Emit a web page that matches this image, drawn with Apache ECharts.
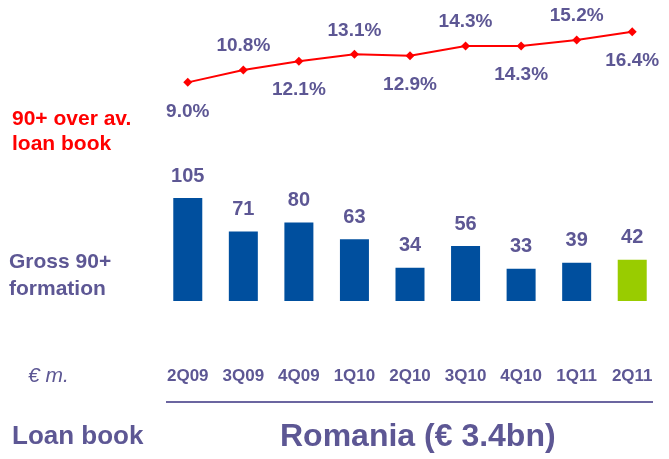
<!DOCTYPE html>
<html><head><meta charset="utf-8">
<script src="https://cdn.jsdelivr.net/npm/echarts@6/dist/echarts.min.js"></script>
<style>html,body{margin:0;padding:0;background:#fff}#c{width:669px;height:459px}</style>
</head><body><div id="c"></div>
<script>
var categories = ['2Q09','3Q09','4Q09','1Q10','2Q10','3Q10','4Q10','1Q11','2Q11'];
var grossFormation = [105, 71, 80, 63, 34, 56, 33, 39, 42];
var ratio90 = [9.0, 10.8, 12.1, 13.1, 12.9, 14.3, 14.3, 15.2, 16.4];

var PURPLE = '#5d5794';
var FONT = '"Liberation Sans", Arial, sans-serif';
var chart = echarts.init(document.getElementById('c'), null, {renderer:'canvas'});

var lineData = ratio90.map(function(v, i){
  var up = i % 2 === 1;
  return {value: v, label: {position: up ? 'top' : 'bottom', distance: up ? 10 : 15}};
});
var barData = grossFormation.map(function(v, i){
  return {value: v, itemStyle: {color: i === grossFormation.length - 1 ? '#99cc00' : '#004f9e'}};
});

chart.setOption({
  animation: false,
  grid: [
    {left: 160, right: 9, top: 27.6, height: 61.6},
    {left: 160, right: 9, top: 193.2, height: 107.8}
  ],
  xAxis: [
    {type:'category', gridIndex:0, data:categories, show:false},
    {type:'category', gridIndex:1, data:categories,
     axisLine:{show:false}, axisTick:{show:false},
     axisLabel:{margin:67, color:PURPLE, fontFamily:FONT, fontWeight:'bold', fontSize:17}}
  ],
  yAxis: [
    {type:'value', gridIndex:0, min:8, max:17, show:false},
    {type:'value', gridIndex:1, min:0, max:110, show:false}
  ],
  series: [
    {type:'line', xAxisIndex:0, yAxisIndex:0, data:lineData,
     symbol:'diamond', symbolSize:9,
     lineStyle:{color:'#ff0000', width:2}, itemStyle:{color:'#ff0000'},
     label:{show:true, color:PURPLE, fontFamily:FONT, fontWeight:'bold', fontSize:19,
            formatter:function(p){return p.value.toFixed(1)+'%';}}},
    {type:'bar', xAxisIndex:1, yAxisIndex:1, data:barData, barWidth:29,
     label:{show:true, position:'top', distance:12, color:PURPLE, fontFamily:FONT, fontWeight:'bold', fontSize:20}}
  ],
  graphic: [
    {type:'text', left:12, top:107, style:{text:'90+ over av.\nloan book', fill:'#ff0000', font:'bold 21px '+FONT, lineHeight:25}},
    {type:'text', left:9, top:249, style:{text:'Gross 90+\nformation', fill:PURPLE, font:'bold 21px '+FONT, lineHeight:27}},
    {type:'text', left:28, top:366, style:{text:'€ m.', fill:PURPLE, font:'italic 21px '+FONT}},
    {type:'line', shape:{x1:166, y1:402, x2:653, y2:402}, style:{stroke:'#6b65a0', lineWidth:2}},
    {type:'text', left:12, top:424, style:{text:'Loan book', fill:PURPLE, font:'bold 26px '+FONT}},
    {type:'text', left:280, top:421, style:{text:'Romania (€ 3.4bn)', fill:PURPLE, font:'bold 32px '+FONT}}
  ]
});
</script></body></html>
